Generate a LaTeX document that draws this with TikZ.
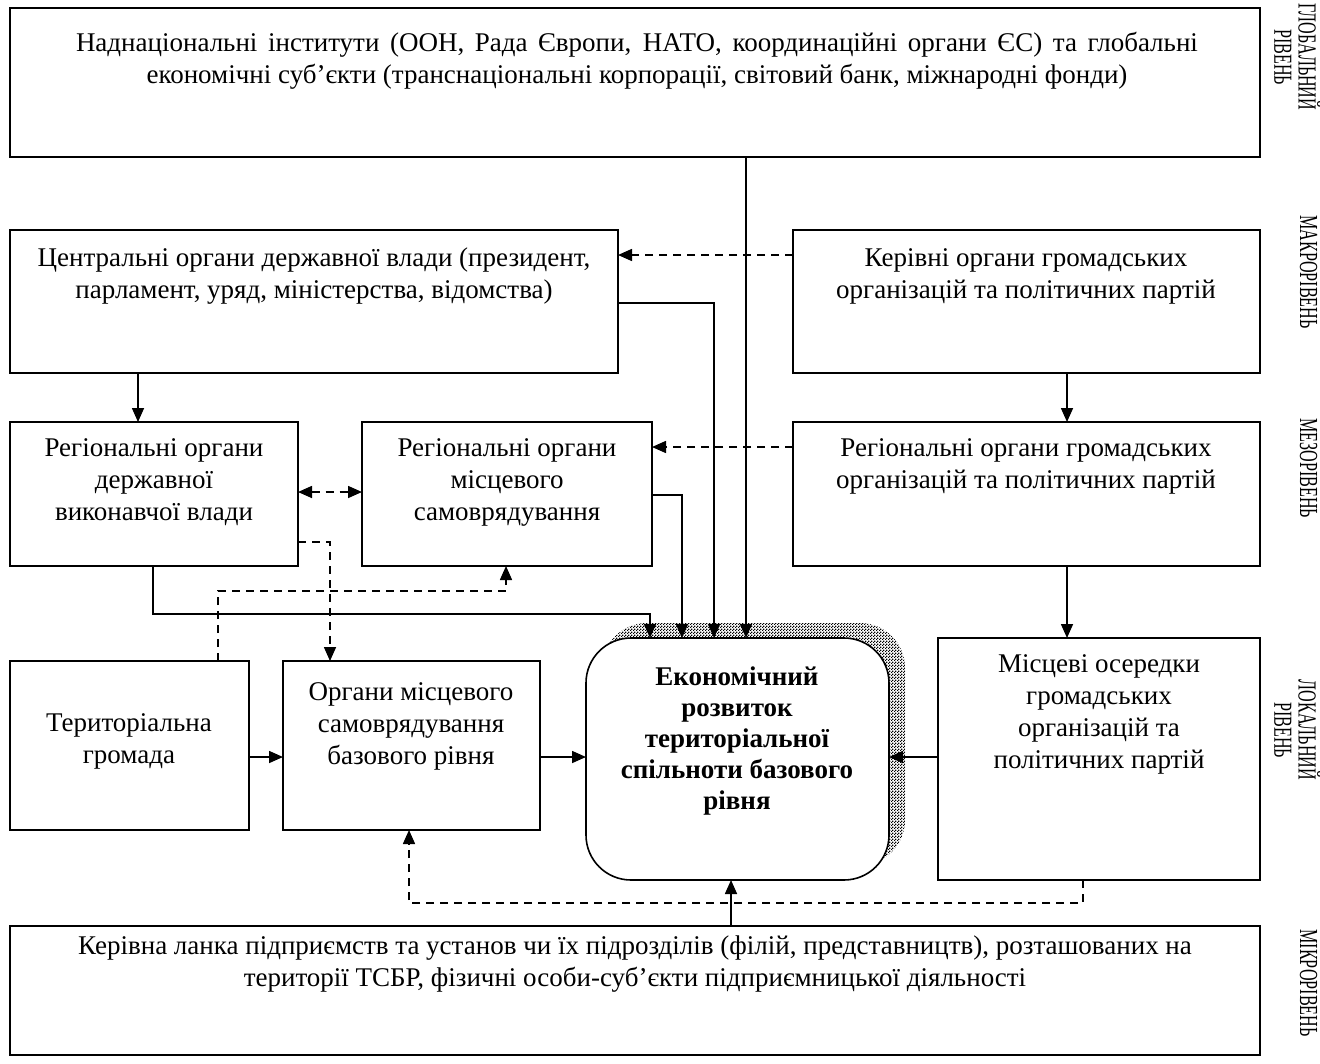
\documentclass[tikz,border=0pt]{standalone}
\usepackage{fontspec}
\setmainfont{Liberation Serif}
\usetikzlibrary{arrows.meta,patterns,calc}

% fine two-tone checker for the shadow of the central block
\pgfdeclarepatternformonly{shadowcheck}{\pgfpointorigin}{\pgfqpoint{3pt}{3pt}}{\pgfqpoint{3pt}{3pt}}{%
  \pgfpathrectangle{\pgfpointorigin}{\pgfqpoint{1.5pt}{1.5pt}}%
  \pgfpathrectangle{\pgfqpoint{1.5pt}{1.5pt}}{\pgfqpoint{1.5pt}{1.5pt}}%
  \pgfusepath{fill}}

\begin{document}
\begin{tikzpicture}[x=1pt,y=-1pt,
  box/.style={draw, line width=1.6pt, inner sep=0pt, outer sep=0pt, anchor=north west},
  txt/.style={align=center, inner sep=0pt, anchor=north, font=\fontsize{27}{32}\selectfont},
  tip/.style={-{Triangle[length=14pt,width=12pt]}},
  arr/.style={line width=1.6pt, tip},
  darr/.style={arr, dash pattern=on 8pt off 6pt},
  dbl/.style={line width=1.6pt, dash pattern=on 8pt off 6pt,
              {Triangle[length=14pt,width=12pt]}-{Triangle[length=14pt,width=12pt]}},
  lvl/.style={rotate=-90, inner sep=0pt, font=\fontsize{26}{24}\selectfont}
]
\useasboundingbox (0,0) rectangle (1320,1063);

% level captions on the right margin
\newcommand{\lvltext}[1]{\scalebox{0.62}[1]{\begin{tabular}{@{}c@{}}#1\end{tabular}}}
\node[lvl] (lglob)  at (1294,57)  {\lvltext{ГЛОБАЛЬНИЙ\\РІВЕНЬ}};
\node[lvl] (lmacro) at (1305,272) {\lvltext{МАКРОРІВЕНЬ}};
\node[lvl] (lmeso)  at (1305,468) {\lvltext{МЕЗОРІВЕНЬ}};
\node[lvl] (lloc)   at (1294,730) {\lvltext{ЛОКАЛЬНИЙ\\РІВЕНЬ}};
\node[lvl] (lmicro) at (1305,983) {\lvltext{МІКРОРІВЕНЬ}};

% boxes
\node[box, minimum width=1250pt, minimum height=149pt] (glob) at (10,8) {};
\node[box, minimum width=608pt,  minimum height=143pt] (cg)   at (10,230) {};
\node[box, minimum width=467pt,  minimum height=143pt] (kg)   at (793,230) {};
\node[box, minimum width=288pt,  minimum height=144pt] (rs)   at (10,422) {};
\node[box, minimum width=290pt,  minimum height=144pt] (rsg)  at (362,422) {};
\node[box, minimum width=467pt,  minimum height=144pt] (rso)  at (793,422) {};
\node[box, minimum width=239pt,  minimum height=169pt] (tg)   at (10,661) {};
\node[box, minimum width=257pt,  minimum height=169pt] (osg)  at (283,661) {};
\node[box, minimum width=322pt,  minimum height=242pt] (mis)  at (938,638) {};
\node[box, minimum width=1250pt, minimum height=129pt] (bot)  at (10,926) {};

% central block with its checkered shadow
\path[pattern=shadowcheck, pattern color=black, rounded corners=45pt] (602,623) rectangle (905,865);
\node[box, fill=white, rounded corners=45pt, minimum width=303pt, minimum height=242pt] (cen) at (586,638) {};

% box texts
\node[txt] (globt) at (637,32) {\makebox[1122pt][s]{Наднаціональні інститути (ООН, Рада Європи, НАТО, координаційні органи ЄС) та глобальні}\\економічні суб’єкти (транснаціональні корпорації, світовий банк, міжнародні фонди)};
\node[txt] (cgt)  at (314,248) {Центральні органи державної влади (президент,\\парламент, уряд, міністерства, відомства)};
\node[txt] (kgt)  at (1026,248) {Керівні органи громадських\\організацій та політичних партій};
\node[txt] (rst)  at (154,438) {Регіональні органи\\державної\\виконавчої влади};
\node[txt] (rsgt) at (507,438) {Регіональні органи\\місцевого\\самоврядування};
\node[txt] (rsot) at (1026,438) {Регіональні органи громадських\\організацій та політичних партій};
\node[txt] (tgt)  at (129,713) {Територіальна\\громада};
\node[txt] (osgt) at (411,682) {Органи місцевого\\самоврядування\\базового рівня};
\node[txt, font=\fontsize{27}{31}\selectfont\bfseries] (cent) at (737,667)
  {Економічний\\розвиток\\територіальної\\спільноти базового\\рівня};
\node[txt] (mist) at (1099,654) {Місцеві осередки\\громадських\\організацій та\\політичних партій};
\node[txt] (bott) at (635,936) {Керівна ланка підприємств та установ чи їх підрозділів (філій, представництв), розташованих на\\території ТСБР, фізичні особи-суб’єкти підприємницької діяльності};

% solid links into the central block
\draw[arr] (glob.south -| 746,0) -- (cen.north -| 746,0);
\draw[arr] (cg.east |- 0,303) -| (cen.north -| 714,0);
\draw[arr] (rsg.east |- 0,495) -| (cen.north -| 682,0);
\draw[arr] (rs.south -| 153,0) -- (153,614) -| (cen.north -| 650,0);
\draw[arr] (osg.east |- 0,757) -- (cen.west |- 0,757);
\draw[arr] (mis.west |- 0,757) -- (cen.east |- 0,757);
\draw[arr] (bot.north -| 731,0) -- (cen.south -| 731,0);

% solid links between levels
\draw[arr] (cg.south -| 138,0) -- (rs.north -| 138,0);
\draw[arr] (kg.south -| 1067,0) -- (rso.north -| 1067,0);
\draw[arr] (rso.south -| 1067,0) -- (mis.north -| 1067,0);
\draw[arr] (tg.east |- 0,757) -- (osg.west |- 0,757);

% dashed links
\draw[darr] (kg.west |- 0,255) -- (cg.east |- 0,255);
\draw[darr] (rso.west |- 0,447) -- (rsg.east |- 0,447);
\draw[dbl] (rs.east |- 0,492) -- (rsg.west |- 0,492);
\draw[darr] (rs.east |- 0,542) -| (osg.north -| 330,0);
\draw[darr] (tg.north -| 218,0) -- (218,591) -| (rsg.south -| 506,0);
\draw[darr] (mis.south -| 1083,0) -- (1083,903) -| (osg.south -| 409,0);
\end{tikzpicture}
\end{document}
